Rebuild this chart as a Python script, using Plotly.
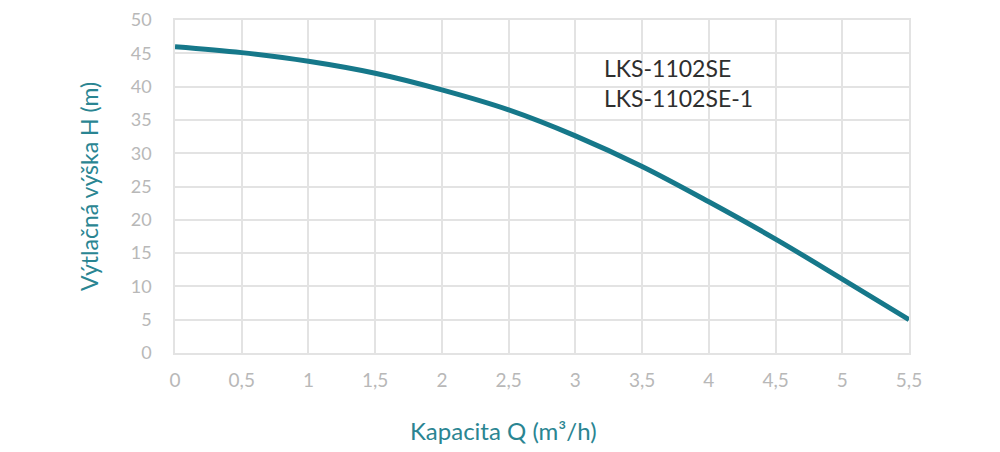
import plotly.graph_objects as go

# kapacita Q (m3/h) a vytlacna vyska H (m)
q_values = [0, 0.5, 1, 1.5, 2, 2.5, 3, 3.5, 4, 4.5, 5, 5.5]
h_values = [46.0, 45.1, 43.8, 42.0, 39.5, 36.5, 32.6, 28.0, 22.7, 17.1, 11.1, 5.0]

x_ticks = [0, 0.5, 1, 1.5, 2, 2.5, 3, 3.5, 4, 4.5, 5, 5.5]
x_labels = ["0", "0,5", "1", "1,5", "2", "2,5", "3", "3,5", "4", "4,5", "5", "5,5"]
y_ticks = [0, 5, 10, 15, 20, 25, 30, 35, 40, 45, 50]

models = ["LKS-1102SE", "LKS-1102SE-1"]

teal = "#16788a"
grid = "#e3e3e3"

fig = go.Figure()
fig.add_trace(go.Scatter(x=q_values, y=h_values, mode="lines",
                         line=dict(color=teal, width=5, shape="spline"),
                         showlegend=False))

fig.add_annotation(x=3.2, y=40.6, xref="x", yref="y", xanchor="left", yanchor="middle",
                   text="<br>".join(models), align="left", showarrow=False,
                   font=dict(size=23, color="#2e2e2e", family="Lato"))

# x axis title sits left of the plot centre in the original
fig.add_annotation(x=0.447, y=-0.232, xref="paper", yref="paper",
                   xanchor="center", yanchor="middle", showarrow=False,
                   text="Kapacita Q (m³/h)",
                   font=dict(size=24, color="#2a8592", family="Lato"))

fig.update_xaxes(range=[0, 5.5], tickvals=x_ticks, ticktext=x_labels,
                 showgrid=True, gridcolor=grid, gridwidth=1.5,
                 showline=True, linecolor=grid, linewidth=1.5, mirror=True,
                 zeroline=False, ticks="outside", ticklen=9, tickcolor="rgba(0,0,0,0)",
                 tickfont=dict(size=19, color="#b8b8b8", family="Lato"),
                 automargin=False, ticklabeloverflow="allow")
fig.update_yaxes(range=[0, 50], tickvals=y_ticks,
                 showgrid=True, gridcolor=grid, gridwidth=1.5,
                 showline=True, linecolor=grid, linewidth=1.5, mirror=True,
                 zeroline=False, ticks="outside", ticklen=18, tickcolor="rgba(0,0,0,0)",
                 tickfont=dict(size=18, color="#b8b8b8", family="Lato"),
                 automargin=False, ticklabeloverflow="allow",
                 title=dict(text="Výtlačná výška H (m)", standoff=26,
                            font=dict(size=23, color="#2a8592", family="Lato")))

fig.update_layout(width=1000, height=452, plot_bgcolor="white", paper_bgcolor="white",
                  margin=dict(l=167, r=99, t=12, b=107))

fig.write_html("out.html")
